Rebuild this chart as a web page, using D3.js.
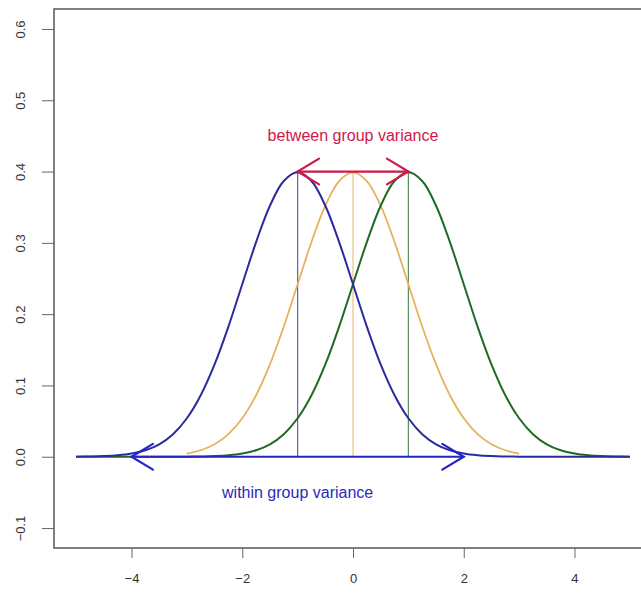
<!DOCTYPE html>
<html><head><meta charset="utf-8">
<script src="https://cdn.jsdelivr.net/npm/d3@7"></script>
<style>body{margin:0;background:#fff}svg{display:block}text{font-family:"Liberation Sans",Arial,sans-serif}</style>
</head><body><svg id="c" width="641" height="594"></svg>
<script>
// x grid for the curves
const xGrid = [-5,-4.75,-4.5,-4.25,-4,-3.75,-3.5,-3.25,-3,-2.75,-2.5,-2.25,-2,-1.75,-1.5,-1.25,-1,-0.75,-0.5,-0.25,0,0.25,0.5,0.75,1,1.25,1.5,1.75,2,2.25,2.5,2.75,3,3.25,3.5,3.75,4,4.25,4.5,4.75,5];
// density (group mean -1, blue)
const blueY = [0.0001,0.0004,0.0009,0.0020,0.0044,0.0091,0.0175,0.0317,0.0540,0.0863,0.1295,0.1826,0.2420,0.3011,0.3521,0.3867,0.3989,0.3867,0.3521,0.3011,0.2420,0.1826,0.1295,0.0863,0.0540,0.0317,0.0175,0.0091,0.0044,0.0020,0.0009,0.0004,0.0001,0,0,0,0,0,0,0,0];
// group mean +1, green
const greenY = [0,0,0,0,0,0,0,0,0.0001,0.0004,0.0009,0.0020,0.0044,0.0091,0.0175,0.0317,0.0540,0.0863,0.1295,0.1826,0.2420,0.3011,0.3521,0.3867,0.3989,0.3867,0.3521,0.3011,0.2420,0.1826,0.1295,0.0863,0.0540,0.0317,0.0175,0.0091,0.0044,0.0020,0.0009,0.0004,0.0001];
// group mean 0, orange (drawn from -3 to 3)
const orangeX = [-3,-2.75,-2.5,-2.25,-2,-1.75,-1.5,-1.25,-1,-0.75,-0.5,-0.25,0,0.25,0.5,0.75,1,1.25,1.5,1.75,2,2.25,2.5,2.75,3];
const orangeY = [0.0044,0.0091,0.0175,0.0317,0.0540,0.0863,0.1295,0.1826,0.2420,0.3011,0.3521,0.3867,0.3989,0.3867,0.3521,0.3011,0.2420,0.1826,0.1295,0.0863,0.0540,0.0317,0.0175,0.0091,0.0044];
const means = [-1, 0, 1];
const peak = 0.4;
const xTicks = [-4,-2,0,2,4];
const yTicks = [-0.1,0,0.1,0.2,0.3,0.4,0.5,0.6];
const betweenArrow = [-1, 1];
const withinArrow = [-4, 2];
const labels = ["between group variance", "within group variance"];

const svg = d3.select("#c");
const x = d3.scaleLinear().domain([-5.4, 5.4]).range([54, 652]);
const y = d3.scaleLinear().domain([-0.128, 0.628]).range([548, 9]);

const blue = "#2b2b9e", green = "#1f6a24", orange = "#e6b25c", red = "#d0184a";

// box
svg.append("rect").attr("x", 54).attr("y", 9).attr("width", 598).attr("height", 539)
  .attr("fill", "none").attr("stroke", "#555").attr("stroke-width", 1.5);

// axes
const xa = svg.append("g").attr("transform", "translate(0,548)")
  .call(d3.axisBottom(x).tickValues(xTicks).tickSize(10).tickPadding(16).tickFormat(d => d < 0 ? "\u2212" + Math.abs(d) : d));
xa.select(".domain").remove();
xa.selectAll("line").attr("stroke", "#666");
xa.selectAll("text").attr("font-size", 13).attr("fill", "#333");

const ya = svg.append("g").attr("transform", "translate(54,0)")
  .call(d3.axisLeft(y).tickValues(yTicks).tickSize(12).tickFormat(d => d < 0 ? "\u2212" + Math.abs(d).toFixed(1) : d.toFixed(1)));
ya.select(".domain").remove();
ya.selectAll("line").attr("stroke", "#666");
ya.selectAll("text").attr("font-size", 13).attr("fill", "#333")
  .attr("text-anchor", "middle").attr("dy", 0).attr("x", 0)
  .attr("transform", "translate(-29,0) rotate(-90)");

const line = d3.line().x(d => x(d[0])).y(d => y(d[1])).curve(d3.curveCatmullRom);

// vertical lines at means
const vcols = [blue, orange, green];
means.forEach((m, i) => {
  svg.append("line").attr("x1", x(m)).attr("x2", x(m)).attr("y1", y(0)).attr("y2", y(peak))
    .attr("stroke", vcols[i]).attr("stroke-width", 1.2).attr("opacity", 0.75);
});

svg.append("path").datum(orangeX.map((v, i) => [v, orangeY[i]])).attr("d", line)
  .attr("fill", "none").attr("stroke", orange).attr("stroke-width", 1.8);
svg.append("path").datum(xGrid.map((v, i) => [v, greenY[i]])).attr("d", line)
  .attr("fill", "none").attr("stroke", green).attr("stroke-width", 2);
svg.append("path").datum(xGrid.map((v, i) => [v, blueY[i]])).attr("d", line)
  .attr("fill", "none").attr("stroke", blue).attr("stroke-width", 2);

function arrow(x0, x1, yv, col) {
  const g = svg.append("g").attr("stroke", col).attr("stroke-width", 2.2).attr("fill", "none").attr("stroke-linecap", "round");
  const X0 = x(x0), X1 = x(x1), Y = y(yv);
  const L = 25, a = 31 * Math.PI / 180;
  const dx = L * Math.cos(a), dy = L * Math.sin(a);
  g.append("line").attr("x1", X0).attr("x2", X1).attr("y1", Y).attr("y2", Y);
  g.append("path").attr("d", `M${X0+dx},${Y-dy}L${X0},${Y}L${X0+dx},${Y+dy}`);
  g.append("path").attr("d", `M${X1-dx},${Y-dy}L${X1},${Y}L${X1-dx},${Y+dy}`);
}
arrow(betweenArrow[0], betweenArrow[1], peak, red);
arrow(withinArrow[0], withinArrow[1], 0, "#2424c8");

svg.append("text").attr("x", x(0)).attr("y", 141).attr("text-anchor", "middle")
  .attr("font-size", 16).attr("fill", red).text(labels[0]);
svg.append("text").attr("x", x(-1)).attr("y", 498).attr("text-anchor", "middle")
  .attr("font-size", 16).attr("fill", "#2a2ab8").text(labels[1]);
</script></body></html>
